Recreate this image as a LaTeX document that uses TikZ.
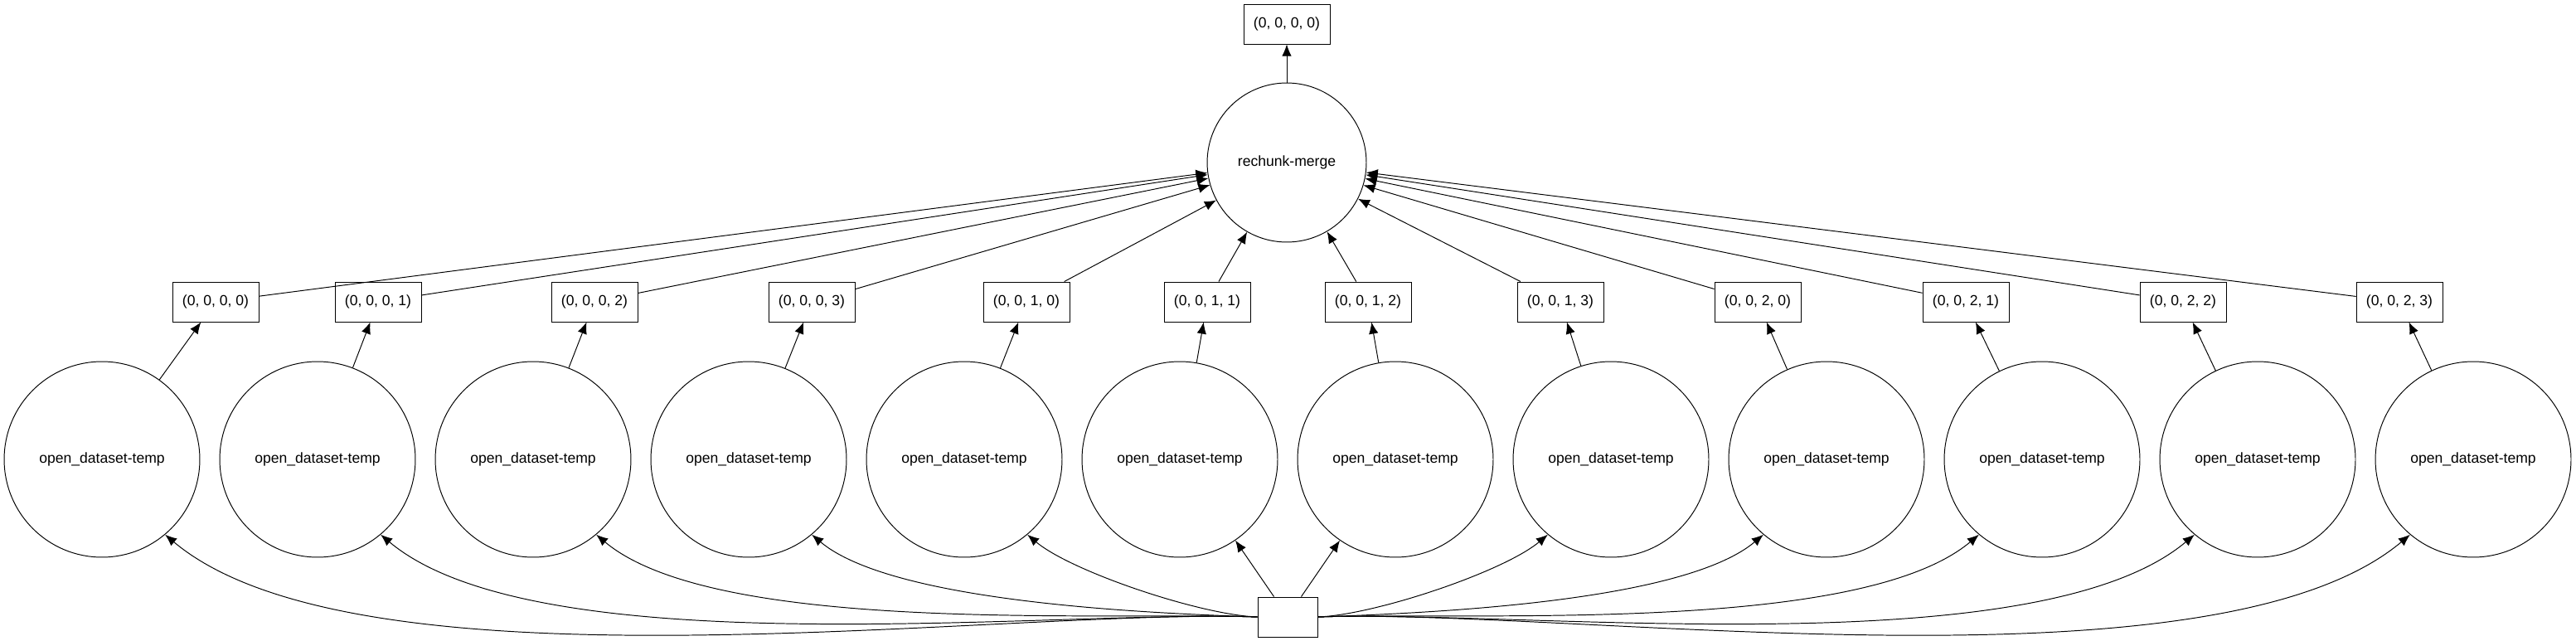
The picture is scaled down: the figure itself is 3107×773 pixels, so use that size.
\documentclass[tikz,border=0pt]{standalone}
\usepackage{fontspec}
\setmainfont{Liberation Sans}
\usetikzlibrary{arrows.meta,positioning}
\tikzset{
  task/.style={draw, circle, minimum size=4.72cm, inner sep=0pt, font=\fontsize{10}{12}\selectfont},
  merge/.style={draw, circle, minimum size=3.84cm, inner sep=0pt, font=\fontsize{10}{12}\selectfont},
  chunk/.style={draw, rectangle, minimum width=2.08cm, minimum height=0.96cm, inner sep=0pt, font=\fontsize{10}{12}\selectfont},
  dep/.style={line width=0.55pt, -{Latex[length=8pt,width=6.5pt]}}
}
\begin{document}
\begin{tikzpicture}[x=0.02cm, y=-0.02cm, line width=0.55pt]
	\useasboundingbox (0,0) rectangle (3107,773);

	\node[chunk] (out) at (1552,29) {(0, 0, 0, 0)};
	\node[merge] (merge) at (1552,196) {rechunk-merge};
	\node[chunk, minimum width=1.44cm] (src) at (1553,744) {};

	% chunk boxes and the tasks that fill them
	\foreach \i/\bx/\lab in {0/260/{0, 0, 0, 0}, 1/456/{0, 0, 0, 1}, 2/717/{0, 0, 0, 2},
	                          3/979/{0, 0, 0, 3}, 4/1238/{0, 0, 1, 0}, 5/1456/{0, 0, 1, 1},
	                          6/1650/{0, 0, 1, 2}, 7/1882/{0, 0, 1, 3}, 8/2120/{0, 0, 2, 0},
	                          9/2371/{0, 0, 2, 1}, 10/2633/{0, 0, 2, 2}, 11/2894/{0, 0, 2, 3}} {
		\node[chunk] (b\i) at (\bx,364) {(\lab)};
		\node[task] (t\i) at ({123+260*\i},554) {open\_dataset-temp};
		\draw[dep] (t\i) -- (b\i);
		\draw[dep] (b\i) -- (merge);
	}
	\draw[dep] (merge) -- (out);

	% source to tasks
	\foreach \i in {0,...,4} {
		\draw[dep] (src.west) to[out=178, in=-40, looseness=0.6] (t\i.-50);
	}
	\foreach \i in {7,...,11} {
		\draw[dep] (src.east) to[out=2, in=-140, looseness=0.6] (t\i.-130);
	}
	\draw[dep] (src.north west) ++(20,0) -- (t5);
	\draw[dep] (src.north east) ++(-20,0) -- (t6);
\end{tikzpicture}
\end{document}
